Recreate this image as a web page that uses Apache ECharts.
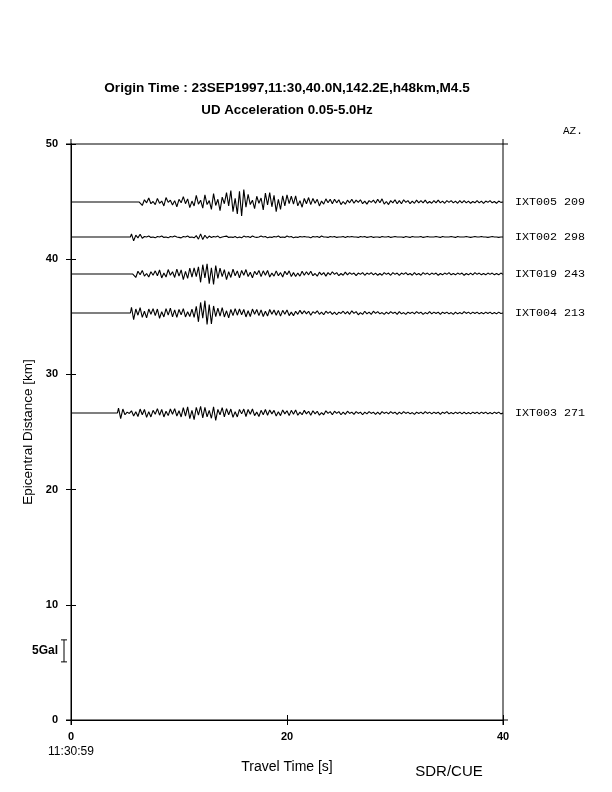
<!DOCTYPE html>
<html><head><meta charset="utf-8">
<script src="https://cdn.jsdelivr.net/npm/echarts@6/dist/echarts.min.js"></script>
<style>html,body{margin:0;padding:0;background:#fff}#c{width:612px;height:792px}</style>
</head><body><div id="c"></div>
<script>
// ---- data ----
const stations   = ['IXT005 209', 'IXT002 298', 'IXT019 243', 'IXT004 213', 'IXT003 271'];
const distancesKm = [44.97, 41.93, 38.72, 35.33, 26.65];
const onsetTimes  = [6.4, 5.6, 5.8, 5.6, 4.4];   // s, first sample of each trace
const sampleStep  = 0.2;                          // s
// amplitudes in units of 0.1 Gal
const ampIXT005 = [
3,-8,5,-2,9,-4,1,-6,8,-3,
2,-9,10,-1,4,-7,3,-11,6,-2,
12,-4,7,-13,2,-9,15,-5,4,-14,
16,-6,3,-17,19,-8,6,-20,11,-4,
21,-9,26,-22,8,-27,24,-32,28,-12,
17,-6,4,-15,13,-3,9,-18,20,-7,
21,-11,15,-22,6,-17,14,-9,16,-4,
13,-5,14,-9,3,-12,8,-4,10,-6,
8,-3,6,-9,2,-5,7,-2,6,-4,
6,-2,5,-6,1,-5,4,-2,6,-3,
4,-1,5,-4,2,-5,3,-1,4,-3,
6,-2,7,-5,1,-6,3,-2,5,-4,
3,-4,5,-1,3,-4,2,-3,4,-2,
3,-2,4,-3,1,-3,3,-2,4,-2,
2,-3,3,-1,3,-2,2,-3,3,-2,
3,-2,2,-3,1,-2,3,-2,2,-3,
2,-1,3,-2,1,-3,2,-1,0];
const ampIXT002 = [
7,-9,4,-2,6,-3,1,0,2,-1,
0,-2,1,0,2,-1,0,-2,1,0,
2,0,-1,-2,1,0,2,-1,0,-2,
3,-5,7,-6,4,-3,2,-1,1,0,
2,-2,0,1,2,-1,0,-1,1,-2,
0,-2,2,0,1,-1,2,0,-1,0,
2,0,1,-2,0,-1,1,0,2,-1,
0,-1,2,0,1,-2,0,-1,1,0,
1,0,0,-2,1,0,1,-1,2,0,
0,-1,1,0,1,-1,0,0,1,-1,
1,0,1,0,0,-1,1,0,1,-1,
0,1,-1,0,0,-1,1,0,0,1,
-1,0,1,0,0,0,-1,1,0,-1,
1,0,0,0,1,-1,0,1,0,0,
0,1,0,-1,1,0,0,0,1,0,
-1,1,0,0,0,1,0,-1,0,1,
0,0,1,0,0,-1,0,1,0,0,
-1,0,0];
const ampIXT019 = [
4,-8,6,-2,8,-5,1,-7,5,-3,
7,-4,9,-9,2,-7,10,-3,5,-8,
11,-5,9,-13,6,-10,13,-7,14,-6,
16,-19,21,-9,23,-22,14,-24,19,-10,
13,-6,10,-13,5,-8,11,-4,7,-9,
8,-3,10,-6,4,-9,6,-2,8,-6,
7,-3,8,-7,2,-5,7,-4,3,-7,
6,-2,7,-6,3,-6,2,-5,6,-3,
5,-2,6,-4,1,-5,4,-2,3,-5,
3,-2,5,-1,3,-4,1,-3,4,-2,
3,-1,2,-4,2,-1,3,-3,2,-1,
3,-2,2,-3,1,-3,3,-1,2,-3,
3,-1,2,-3,2,-1,3,-2,1,-3,
3,-2,1,-3,3,-1,2,-2,2,-1,
2,-3,1,-2,2,-1,3,-2,1,-2,
2,-1,2,-3,1,-2,2,-2,3,-1,
2,-2,1,-2,2,-1,2,-2,1,-2,
2,-1,0];
const ampIXT004 = [
13,-15,9,-5,12,-10,4,-11,9,-3,
10,-6,9,-12,3,-9,10,-5,11,-9,
7,-10,8,-4,10,-9,3,-8,9,-10,
15,-20,24,-12,28,-26,19,-25,16,-8,
11,-7,12,-9,5,-11,8,-6,10,-5,
9,-4,8,-9,5,-8,9,-3,8,-6,
7,-8,4,-7,8,-3,7,-5,6,-7,
6,-3,7,-6,2,-6,4,-3,6,-2,
5,-2,4,-5,3,-1,5,-3,2,-4,
4,-1,3,-3,2,-4,2,-1,4,-2,
3,-3,5,-1,3,-4,1,-3,4,-2,
2,-3,4,-1,3,-2,1,-3,2,-2,
3,-1,2,-3,3,-2,1,-3,2,-1,
2,-2,3,-1,2,-3,1,-2,3,-2,
2,-1,2,-3,2,-1,2,-2,1,-3,
2,-2,1,-2,3,-1,2,-2,2,-1,
2,-2,1,-2,2,-1,2,-2,1,-2,
2,-1,0];
const ampIXT003 = [
11,-13,9,-4,2,-1,5,-7,3,-8,
9,-4,8,-10,3,-9,6,-3,10,-5,
8,-9,4,-6,9,-3,10,-7,5,-9,
12,-7,14,-13,6,-15,13,-5,15,-11,
13,-9,6,-12,14,-17,8,-4,12,-9,
10,-4,9,-10,3,-9,8,-2,9,-8,
8,-3,9,-6,2,-8,6,-4,8,-5,
7,-2,6,-7,3,-6,7,-2,5,-6,
6,-3,7,-5,2,-4,6,-2,4,-5,
5,-2,4,-5,1,-4,5,-1,3,-4,
4,-1,3,-4,2,-3,4,-1,2,-3,
3,-1,2,-4,2,-2,3,-1,2,-3,
2,-3,3,-1,2,-2,3,-1,2,-3,
2,-2,3,-1,2,-2,1,-3,2,-1,
2,-2,3,-1,2,-2,2,-1,2,-3,
2,-1,3,-2,1,-2,2,-1,2,-2,
2,-2,1,-2,2,-1,2,-2,2,-1,
2,-2,1,-2,2,-1,2,-2,0];
const amplitudes = [ampIXT005, ampIXT002, ampIXT019, ampIXT004, ampIXT003];
const xTickValues = [0, 20, 40];
const yTickValues = [0, 10, 20, 30, 40, 50];
const titleText = 'Origin Time : 23SEP1997,11:30,40.0N,142.2E,h48km,M4.5';
const subtitleText = 'UD Acceleration 0.05-5.0Hz';
const startClock = '11:30:59';
const creditText = 'SDR/CUE';
const azimuthHeader = 'AZ.';
const scaleBarGal = 5;
const scaleBarCenterKm = 6;
// display gain: km of distance axis per Gal
const kmPerGal = 0.382;
const unitGal = 0.1;

const X_MIN = xTickValues[0], X_MAX = xTickValues[xTickValues.length - 1];
const Y_MIN = yTickValues[0], Y_MAX = yTickValues[yTickValues.length - 1];

function buildTrace(i) {
  const d = distancesKm[i], t0 = onsetTimes[i];
  const pts = [[X_MIN, d], [t0 - sampleStep / 2, d]];
  amplitudes[i].forEach((a, k) => {
    const t = t0 + k * sampleStep;
    if (t <= X_MAX + 1e-6) pts.push([Math.min(t, X_MAX), d + a * unitGal * kmPerGal]);
  });
  return pts;
}

const chart = echarts.init(document.getElementById('c'), null, {renderer: 'canvas'});
const sans = 'Liberation Sans, Arial, Helvetica, sans-serif';
const mono = 'Liberation Mono, DejaVu Sans Mono, monospace';
const axisCommon = {
  axisLine: {show: true, lineStyle: {color: '#000', width: 1}},
  axisTick: {show: true, inside: false, length: 5, lineStyle: {color: '#000', width: 1}},
  splitLine: {show: false}
};
chart.setOption({
  animation: false,
  backgroundColor: '#fff',
  grid: {left: 71, top: 144, width: 432, height: 576, containLabel: false},
  xAxis: [
    Object.assign({type: 'value', min: X_MIN, max: X_MAX, interval: 20, position: 'bottom',
      axisLabel: {color: '#000', fontFamily: sans, fontWeight: 'bold', fontSize: 11, margin: 11},
      name: 'Travel Time [s]', nameLocation: 'middle', nameGap: 40,
      nameTextStyle: {color: '#000', fontFamily: sans, fontSize: 14}}, axisCommon),
    Object.assign({type: 'value', min: X_MIN, max: X_MAX, interval: 20, position: 'top',
      axisLabel: {show: false}}, axisCommon)
  ],
  yAxis: [
    Object.assign({type: 'value', min: Y_MIN, max: Y_MAX, interval: 10, position: 'left',
      axisLabel: {color: '#000', fontFamily: sans, fontWeight: 'bold', fontSize: 11, margin: 13},
      name: 'Epicentral Distance [km]', nameLocation: 'middle', nameGap: 30, nameRotate: 90,
      nameTextStyle: {color: '#000', fontFamily: sans, fontSize: 13.5}}, axisCommon),
    Object.assign({type: 'value', min: Y_MIN, max: Y_MAX, interval: 10, position: 'right',
      axisLabel: {show: false}}, axisCommon)
  ],
  series: stations.map((name, i) => ({
    type: 'line', name: name, data: buildTrace(i),
    xAxisIndex: 0, yAxisIndex: 0,
    symbol: 'none', showSymbol: false, sampling: false,
    lineStyle: {color: '#000', width: 1.1},
    endLabel: {show: true, formatter: name, distance: 12, color: '#000',
      fontFamily: mono, fontSize: 11.7}
  }))
});

// scale bar and annotations
const yc = chart.convertToPixel({yAxisIndex: 0}, scaleBarCenterKm);
const half = (chart.convertToPixel({yAxisIndex: 0}, 0) - chart.convertToPixel({yAxisIndex: 0}, scaleBarGal * kmPerGal)) / 2;
const xLeft = chart.convertToPixel({xAxisIndex: 0}, X_MIN);
const xRight = chart.convertToPixel({xAxisIndex: 0}, X_MAX);
const xMid = chart.convertToPixel({xAxisIndex: 0}, (X_MIN + X_MAX) / 2);
const yTop = chart.convertToPixel({yAxisIndex: 0}, Y_MAX);
const yBot = chart.convertToPixel({yAxisIndex: 0}, Y_MIN);
const bx = xLeft - 7;
chart.setOption({
  graphic: [
    {type: 'text', x: xMid, y: 88, style: {text: titleText, fill: '#000', font: 'bold 13.6px ' + sans, textAlign: 'center', textVerticalAlign: 'middle'}},
    {type: 'text', x: xMid, y: 110, style: {text: subtitleText, fill: '#000', font: 'bold 13.3px ' + sans, textAlign: 'center', textVerticalAlign: 'middle'}},
    {type: 'text', x: xRight + 60, y: 131, style: {text: azimuthHeader, fill: '#000', font: '11px ' + mono, textAlign: 'left', textVerticalAlign: 'middle'}},
    {type: 'text', x: xLeft, y: 752, style: {text: startClock, fill: '#000', font: '12px ' + sans, textAlign: 'center', textVerticalAlign: 'middle'}},
    {type: 'text', x: 449, y: 772, style: {text: creditText, fill: '#000', font: '15px ' + sans, textAlign: 'center', textVerticalAlign: 'middle'}},
    {type: 'text', x: bx - 6, y: yc, style: {text: scaleBarGal + 'Gal', fill: '#000', font: 'bold 12px ' + sans, textAlign: 'right', textVerticalAlign: 'middle'}},
    {type: 'line', shape: {x1: bx, y1: yc - half, x2: bx, y2: yc + half}, style: {stroke: '#000', lineWidth: 1}},
    {type: 'line', shape: {x1: bx - 3, y1: yc - half, x2: bx + 3, y2: yc - half}, style: {stroke: '#000', lineWidth: 1}},
    {type: 'line', shape: {x1: bx - 3, y1: yc + half, x2: bx + 3, y2: yc + half}, style: {stroke: '#000', lineWidth: 1}},
    // frame overshoot at corners
    {type: 'line', shape: {x1: xLeft - 5, y1: yTop, x2: xRight + 5, y2: yTop}, style: {stroke: '#000', lineWidth: 1}},
    {type: 'line', shape: {x1: xLeft - 5, y1: yBot, x2: xRight + 5, y2: yBot}, style: {stroke: '#000', lineWidth: 1}},
    {type: 'line', shape: {x1: xLeft, y1: yTop - 5, x2: xLeft, y2: yBot + 5}, style: {stroke: '#000', lineWidth: 1}},
    {type: 'line', shape: {x1: xRight, y1: yTop - 5, x2: xRight, y2: yBot + 5}, style: {stroke: '#000', lineWidth: 1}}
  ]
});
</script></body></html>
